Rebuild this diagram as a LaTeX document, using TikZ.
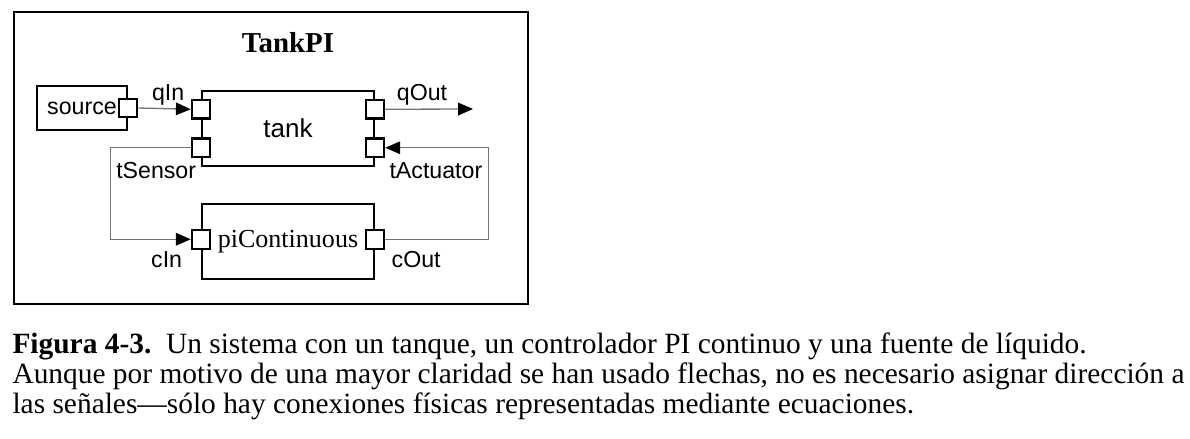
\documentclass[tikz,border=0pt]{standalone}
\usepackage{fontspec}
\setmainfont{Liberation Serif}
\setsansfont{Liberation Sans}
\usetikzlibrary{positioning,arrows.meta}

\newcommand{\blockwidth}{2.32cm}
\newcommand{\blockheight}{1.01cm}
\newcommand{\portsize}{0.25cm}
\newcommand{\portsep}{0.26cm}
\newcommand{\portfont}{\sffamily\fontsize{8.9}{10}\selectfont}

\tikzstyle{frame}=[fill=none,draw=black,thick,shape=rectangle,
                   minimum width=6.94cm,minimum height=3.94cm]
\tikzstyle{block}=[fill=white,text=black,draw=black,thick,shape=rectangle,
                   minimum width=\blockwidth,minimum height=\blockheight,inner sep=0pt]
\tikzstyle{port}=[fill=white,draw=black,thick,shape=rectangle,
                  minimum size=\portsize,inner sep=0pt]
\tikzstyle{portlabel}=[fill=none,text=black,draw=none,inner sep=0pt,font=\portfont]
\tikzstyle{title}=[fill=none,text=black,draw=none,inner sep=0pt,
                   font=\bfseries\fontsize{11.1}{13}\selectfont]
\tikzstyle{wire}=[draw=black!55,line width=0.5pt,
                  -{Triangle[length=0.2cm,width=0.17cm,color=black]}]
\tikzstyle{caption}=[fill=none,text=black,draw=none,inner sep=0pt,anchor=base west,
                     font=\fontsize{11.3}{13}\selectfont]

\begin{document}
\begin{tikzpicture}[x=0.0135cm,y=-0.0135cm]
\useasboundingbox (0,0) rectangle (1190,438);

\node [frame] (box) at (271,158) {};

% components
\node [block, font=\sffamily\fontsize{10}{12}\selectfont] (tank) at (288,128.5) {tank};
\node [title, above=0.5cm of tank] (name) {TankPI};
\node [block, minimum width=1.215cm, minimum height=0.594cm, font=\portfont] (source) at (82,108) {source};
\node [block, font=\fontsize{10}{12}\selectfont] (pic) at (288,241.5) {piContinuous};

% ports
\node [port] (srcport) at (source.east) {};
\node [port] (qin) at ([yshift=\portsep]tank.west) {};
\node [port] (tsensor) at ([yshift=-\portsep]tank.west) {};
\node [port] (qout) at ([yshift=\portsep]tank.east) {};
\node [port] (tact) at ([yshift=-\portsep]tank.east) {};
\node [port] (cin) at ([yshift=0.03cm]pic.west) {};
\node [port] (cout) at ([yshift=0.03cm]pic.east) {};

\node [portlabel, above left=0.04cm and 0.08cm of qin.west] (qinlbl) {qIn};
\node [portlabel, above right=0.04cm and 0.15cm of qout.east] (qoutlbl) {qOut};
\node [portlabel, below left=0.05cm and 0.06cm of tsensor.south] (tsensorlbl) {tSensor};
\node [portlabel, below right=0.05cm and 0.19cm of tact.south] (tactlbl) {tActuator};
\node [portlabel, below left=0.02cm and 0.11cm of cin.south west] (cinlbl) {cIn};
\node [portlabel, below right=0.02cm and 0.08cm of cout.south east] (coutlbl) {cOut};

% connections
\coordinate (qoutend) at (473,109);
\draw [wire] (srcport.east) -- (qin.west);
\draw [wire] (qout.east) -- (qoutend);
\draw [wire] (tsensor.west) -- ++(-80,0) |- (cin.west);
\draw [wire] (cout.east) -- ++(103,0) |- (tact.east);

% caption
\node [caption] (cap1) at (12,353) {\textbf{Figura 4-3.}\ \ Un sistema con un tanque, un controlador PI continuo y una fuente de líquido.};
\node [caption] (cap2) at (12,383) {Aunque por motivo de una mayor claridad se han usado flechas, no es necesario asignar dirección a};
\node [caption] (cap3) at (12,413) {las señales---sólo hay conexiones físicas representadas mediante ecuaciones.};
\end{tikzpicture}
\end{document}
